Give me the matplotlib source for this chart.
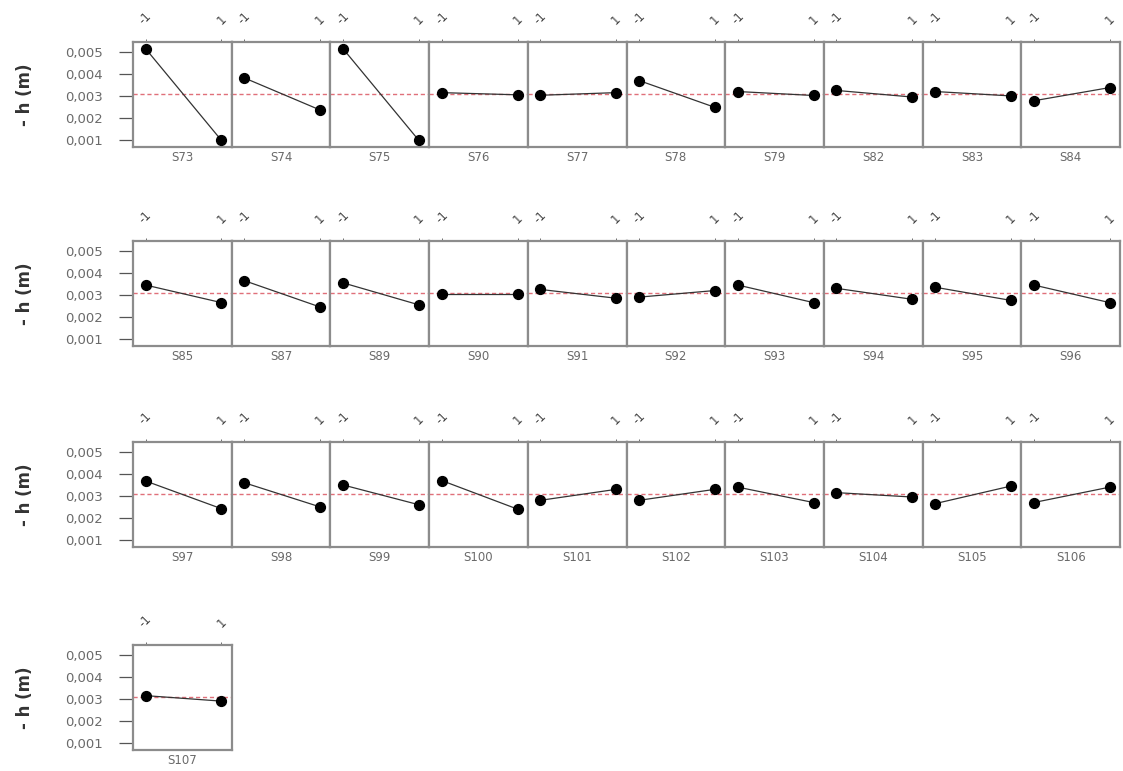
import matplotlib
matplotlib.use("Agg")
import matplotlib.pyplot as plt
from matplotlib.ticker import FuncFormatter

# sample names, one panel each
samples = ["S73", "S74", "S75", "S76", "S77", "S78", "S79", "S82", "S83", "S84",
           "S85", "S87", "S89", "S90", "S91", "S92", "S93", "S94", "S95", "S96",
           "S97", "S98", "S99", "S100", "S101", "S102", "S103", "S104", "S105", "S106",
           "S107"]

# value at level -1 and at level 1
h_low = [0.00515, 0.00382, 0.00515, 0.00315, 0.00303, 0.00370, 0.00320, 0.00325, 0.00320, 0.00278,
         0.00345, 0.00365, 0.00355, 0.00305, 0.00325, 0.00290, 0.00345, 0.00330, 0.00335, 0.00345,
         0.00368, 0.00360, 0.00350, 0.00370, 0.00280, 0.00280, 0.00340, 0.00315, 0.00265, 0.00270,
         0.00315]
h_high = [0.00098, 0.00236, 0.00098, 0.00305, 0.00315, 0.00248, 0.00302, 0.00295, 0.00300, 0.00338,
          0.00265, 0.00245, 0.00255, 0.00305, 0.00285, 0.00320, 0.00265, 0.00280, 0.00275, 0.00265,
          0.00242, 0.00250, 0.00260, 0.00240, 0.00330, 0.00330, 0.00270, 0.00295, 0.00345, 0.00340,
          0.00290]

levels = [-1, 1]
mean_h = 0.00307
y_ticks = [0.001, 0.002, 0.003, 0.004, 0.005]

W, H = 1123, 771
fig = plt.figure(figsize=(W / 100, H / 100), dpi=100)

row_tops = [42, 241, 442, 645]
panel_h = 105
left0 = 133
panel_w = 98.7
frame = "#8c8c8c"
txt = "#6a6a6a"

comma = FuncFormatter(lambda v, p: f"{v:.3f}".replace(".", ","))

for i, name in enumerate(samples):
    r, c = divmod(i, 10)
    x0 = left0 + c * panel_w
    y0 = H - row_tops[r] - panel_h
    ax = fig.add_axes([x0 / W, y0 / H, panel_w / W, panel_h / H])

    ax.axhline(mean_h, color="#e0707a", ls=(0, (3, 2)), lw=1.0, zorder=1)
    ax.plot(levels, [h_low[i], h_high[i]], color="#333333", lw=0.9, zorder=2)
    ax.scatter(levels, [h_low[i], h_high[i]], s=50, color="black", zorder=3)

    ax.set_xlim(-1.33, 1.27)
    ax.set_ylim(0.00068, 0.00545)

    ax.xaxis.tick_top()
    ax.set_xticks(levels)
    ax.set_xticklabels(["-1", "1"], rotation=45, fontsize=8.5, color="#444444")
    ax.tick_params(axis="x", length=2.5, width=0.6, color="#555555", pad=8)

    if c == 0:
        ax.set_yticks(y_ticks)
        ax.yaxis.set_major_formatter(comma)
        ax.tick_params(axis="y", length=10, width=0.9, color="#555555",
                       labelsize=9.5, labelcolor=txt, pad=12)
        ax.set_ylabel("- h (m)", fontsize=12, fontweight="bold", color="#333333", labelpad=22)
    else:
        ax.set_yticks([])

    ax.set_xlabel(name, fontsize=8.5, color=txt, labelpad=3)
    for sp in ax.spines.values():
        sp.set_color(frame)
        sp.set_linewidth(1.6)

fig.savefig("out.png", dpi=100)
